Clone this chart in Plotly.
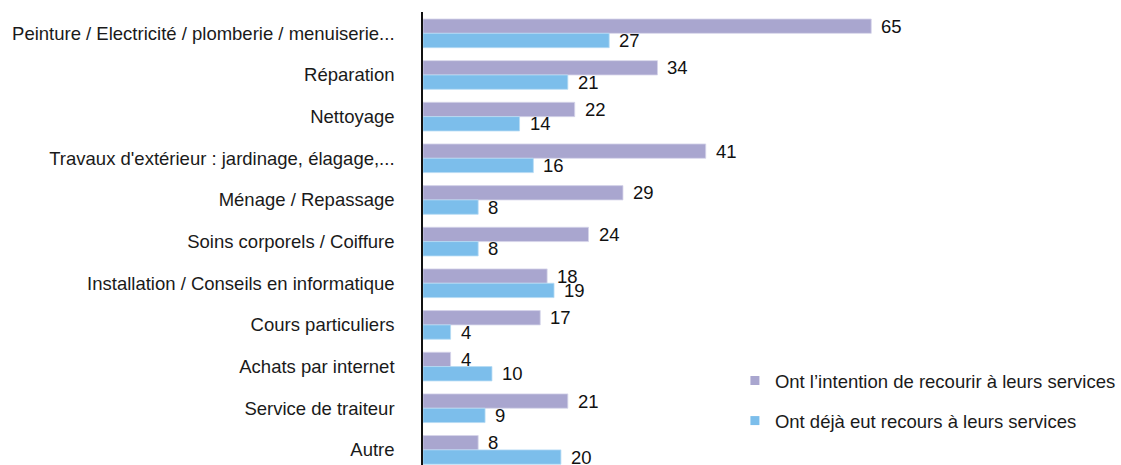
import plotly.graph_objects as go

categories = [
    "Peinture / Electricité / plomberie / menuiserie...",
    "Réparation",
    "Nettoyage",
    "Travaux d'extérieur : jardinage, élagage,...",
    "Ménage / Repassage",
    "Soins corporels / Coiffure",
    "Installation / Conseils en informatique",
    "Cours particuliers",
    "Achats par internet",
    "Service de traiteur",
    "Autre",
]
intention = [65, 34, 22, 41, 29, 24, 18, 17, 4, 21, 8]
deja = [27, 21, 14, 16, 8, 8, 19, 4, 10, 9, 20]

name_intention = "Ont l’intention de recourir à leurs services"
name_deja = "Ont déjà eut recours à leurs services"

PURPLE = "#A9A6CF"
BLUE = "#7CBEEB"
FONT = "Liberation Sans, Arial, sans-serif"
FS = 18.5

W, H = 1121, 465
plot_left, plot_right, plot_top, plot_bottom = 423, 1000, 12, 465
x_max = (plot_right - plot_left) / 6.92

fig = go.Figure()
fig.add_trace(go.Bar(y=categories, x=intention, orientation="h", name=name_intention,
                     marker=dict(color=PURPLE, line=dict(color="#D6D4EA", width=0.8)),
                     showlegend=False, hoverinfo="x+y"))
fig.add_trace(go.Bar(y=categories, x=deja, orientation="h", name=name_deja,
                     marker=dict(color=BLUE, line=dict(color="#B5DAF4", width=0.8)),
                     showlegend=False, hoverinfo="x+y"))

# legend entries with small square swatches
for nm, col, grp in [(name_intention, PURPLE, "a"), (name_deja, BLUE, "b")]:
    fig.add_trace(go.Scatter(x=[None], y=[None], mode="markers", name=nm,
                             legendgroup=grp,
                             marker=dict(symbol="square", size=9, color=col)))

# value labels placed just past each bar end
half = 7.15
for cat, v1, v2 in zip(categories, intention, deja):
    for v, dy in [(v1, half), (v2, -half)]:
        fig.add_annotation(x=v, y=cat, text=str(v), showarrow=False,
                           xanchor="left", yanchor="middle", xshift=8, yshift=dy,
                           font=dict(family=FONT, size=FS, color="#111111"))

plot_w = plot_right - plot_left
plot_h = plot_bottom - plot_top

fig.update_layout(
    width=W, height=H,
    margin=dict(l=plot_left, r=W - plot_right, t=plot_top, b=H - plot_bottom, pad=0),
    barmode="group", bargap=0.312, bargroupgap=0,
    plot_bgcolor="white", paper_bgcolor="white",
    font=dict(family=FONT, size=FS, color="#1a1a1a"),
    xaxis=dict(visible=False, range=[0, x_max], showgrid=False, zeroline=False),
    yaxis=dict(categoryorder="array", categoryarray=categories,
               range=[10.363, -0.512], showgrid=False, zeroline=False,
               showline=True, linecolor="#111111", linewidth=1.5,
               ticks="", ticklabelstandoff=23,
               tickfont=dict(family=FONT, size=FS, color="#1a1a1a")),
    legend=dict(xref="paper", yref="paper",
                x=(736 - plot_left) / plot_w, y=1 - (362 - plot_top) / plot_h,
                xanchor="left", yanchor="top", traceorder="grouped",
                tracegroupgap=13, bgcolor="rgba(0,0,0,0)",
                font=dict(family=FONT, size=FS, color="#1a1a1a")),
    showlegend=True,
)

fig.write_html("out.html")
